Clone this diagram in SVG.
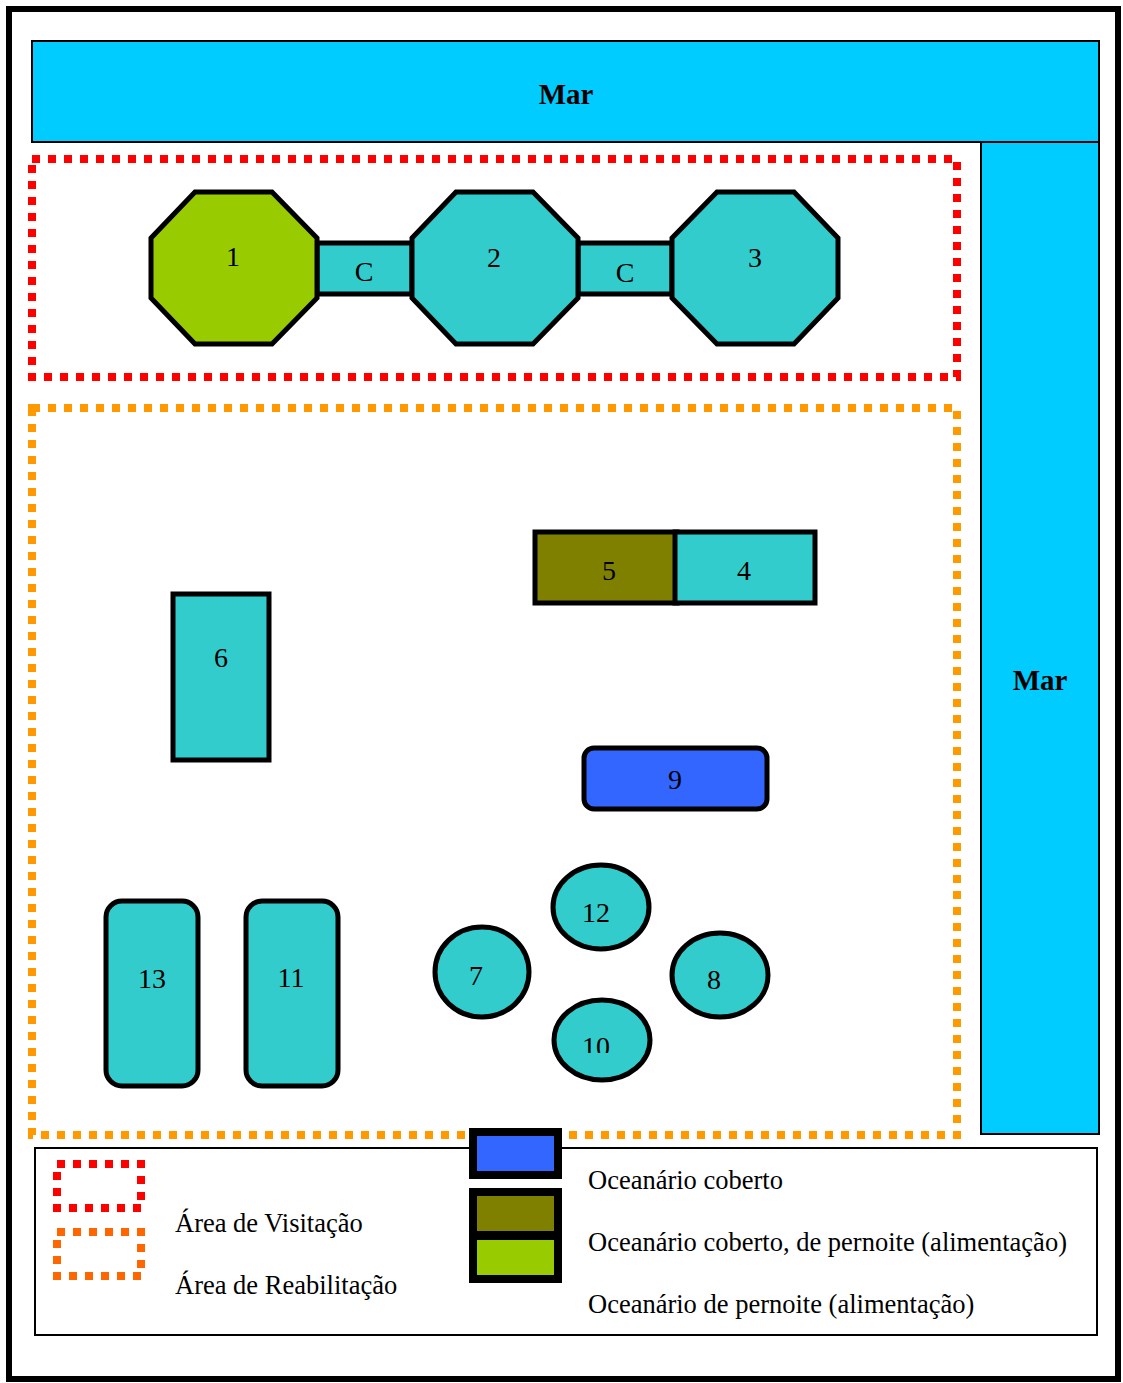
<svg xmlns="http://www.w3.org/2000/svg" width="1123" height="1383" viewBox="0 0 1123 1383">
<style>
text{font-family:"Liberation Serif","Times New Roman",serif;fill:#000}
.n{font-size:28px;text-anchor:middle}
.l{font-size:26.5px}
.m{font-size:29px;font-weight:bold;text-anchor:middle}
.s{stroke:#000;stroke-width:5}
.t{fill:#3cc}
.sea{fill:#0cf;stroke:#000;stroke-width:2}
.d{fill:none;stroke-width:8;stroke-dasharray:8 8}
.sw{stroke:#000;stroke-width:8}
</style>
<defs><clipPath id="c10"><rect x="570" y="1020" width="60" height="33"/></clipPath></defs>
<rect x="9" y="9" width="1109" height="1370" fill="#fff" stroke="#000" stroke-width="6"/>
<g id="sea-top"><rect class="sea" x="32" y="41" width="1067" height="101"/><text class="m" x="566" y="104">Mar</text></g>
<g id="sea-right"><rect class="sea" x="981" y="142" width="118" height="992"/><text class="m" x="1040" y="690">Mar</text></g>
<g id="area-visit"><rect class="d" stroke="#f00" x="32" y="159" width="925" height="218"/></g>
<g id="area-rehab"><rect class="d" stroke="#f90" x="32" y="408" width="925" height="727"/></g>
<g id="conn"></g>
<g id="c1"><rect class="s t" x="317" y="243" width="95" height="51"/><text class="n" x="364" y="281">C</text></g>
<g id="c2"><rect class="s t" x="578" y="243" width="94" height="51"/><text class="n" x="625" y="282">C</text></g>
<g id="n1"><polygon class="s" fill="#9c0" points="195,192 272,192 317,238 317,298 272,344 195,344 151,298 151,238"/><text class="n" x="233" y="266">1</text></g>
<g id="n2"><polygon class="s t" points="456,192 533,192 578,238 578,298 533,344 456,344 412,298 412,238"/><text class="n" x="494" y="267">2</text></g>
<g id="n3"><polygon class="s t" points="717,192 794,192 838,238 838,298 794,344 717,344 672,298 672,238"/><text class="n" x="755" y="267">3</text></g>
<g id="n5"><rect class="s" fill="#808000" x="535" y="532" width="142" height="71"/><text class="n" x="609" y="580">5</text></g>
<g id="n4"><rect class="s t" x="675" y="532" width="140" height="71"/><text class="n" x="744" y="580">4</text></g>
<g id="n6"><rect class="s t" x="173" y="594" width="96" height="166"/><text class="n" x="221" y="667">6</text></g>
<g id="n9"><rect class="s" fill="#36f" x="584" y="748" width="183" height="61" rx="10"/><text class="n" x="675" y="789">9</text></g>
<g id="n13"><rect class="s t" x="106" y="901" width="92" height="185" rx="16"/><text class="n" x="152" y="988">13</text></g>
<g id="n11"><rect class="s t" x="246" y="901" width="92" height="185" rx="16"/><text class="n" x="291" y="987">11</text></g>
<g id="n7"><ellipse class="s t" cx="482" cy="972" rx="47" ry="45"/><text class="n" x="476" y="985">7</text></g>
<g id="n12"><ellipse class="s t" cx="601" cy="907" rx="48" ry="42"/><text class="n" x="596" y="922">12</text></g>
<g id="n8"><ellipse class="s t" cx="720" cy="975" rx="48" ry="42"/><text class="n" x="714" y="989">8</text></g>
<g id="n10"><ellipse class="s t" cx="602" cy="1040" rx="48" ry="40"/><text class="n" x="596" y="1056" clip-path="url(#c10)">10</text></g>
<g id="legend">
<rect x="35" y="1148" width="1062" height="187" fill="#fff" stroke="#000" stroke-width="2"/>
<rect class="d" stroke="#f00" x="57" y="1164" width="84" height="44"/>
<rect class="d" stroke="#f60" x="57" y="1232" width="84" height="44"/>
<text class="l" x="175" y="1232">Área de Visitação</text>
<text class="l" x="175" y="1294">Área de Reabilitação</text>
<rect class="sw" fill="#36f" x="473" y="1132" width="85" height="43"/>
<rect class="sw" fill="#808000" x="473" y="1192" width="85" height="43"/>
<rect class="sw" fill="#9c0" x="473" y="1236" width="85" height="43"/>
<text class="l" x="588" y="1189">Oceanário coberto</text>
<text class="l" x="588" y="1251">Oceanário coberto, de pernoite (alimentação)</text>
<text class="l" x="588" y="1313">Oceanário de pernoite (alimentação)</text>
</g>
</svg>
